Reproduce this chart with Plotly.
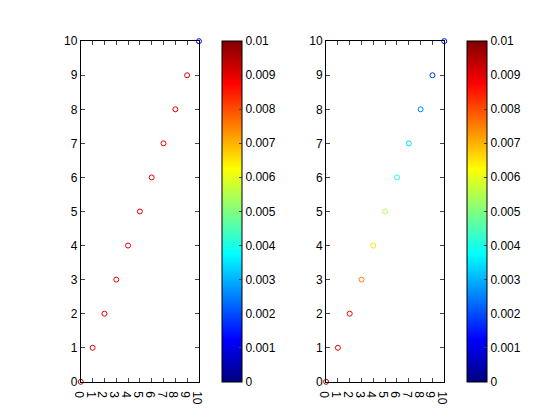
import plotly.graph_objects as go

x_vals = [0, 1, 2, 3, 4, 5, 6, 7, 8, 9, 10]
y_vals = [0, 1, 2, 3, 4, 5, 6, 7, 8, 9, 10]
c_left = [0.0092, 0.009, 0.009, 0.009, 0.009, 0.009, 0.009, 0.009, 0.009, 0.009, 0.0012]
c_right = [0.0095, 0.009, 0.0088, 0.0075, 0.0065, 0.0055, 0.0040, 0.0034, 0.0025, 0.0018, 0.0014]
cbar_ticks = [0, 0.001, 0.002, 0.003, 0.004, 0.005, 0.006, 0.007, 0.008, 0.009, 0.01]
cbar_text = ["0", "0.001", "0.002", "0.003", "0.004", "0.005", "0.006", "0.007", "0.008", "0.009", "0.01"]
axis_ticks = list(range(0, 11))

# MATLAB-style jet
jet = [[0, "rgb(0,0,128)"], [0.125, "rgb(0,0,255)"], [0.375, "rgb(0,255,255)"],
       [0.625, "rgb(255,255,0)"], [0.875, "rgb(255,0,0)"], [1, "rgb(128,0,0)"]]

fig = go.Figure()
fig.add_trace(go.Scatter(x=x_vals, y=y_vals, mode="markers", xaxis="x", yaxis="y", cliponaxis=False,
                         marker=dict(symbol="circle-open", size=5, color=c_left, coloraxis="coloraxis", line=dict(width=1))))
fig.add_trace(go.Scatter(x=x_vals, y=y_vals, mode="markers", xaxis="x2", yaxis="y2", cliponaxis=False,
                         marker=dict(symbol="circle-open", size=5, color=c_right, coloraxis="coloraxis2", line=dict(width=1))))

ax = dict(range=[0, 10], showgrid=False, zeroline=False, showline=True, mirror="ticks", linecolor="black",
          linewidth=1, ticks="inside", ticklen=4, tickvals=axis_ticks, tickfont=dict(size=12))
cb = dict(thickness=20, thicknessmode="pixels", len=341, lenmode="pixels", y=0.110, yanchor="bottom",
          xanchor="left", xpad=0, ypad=0, tickvals=cbar_ticks, ticktext=cbar_text,
          ticks="inside", ticklen=3, outlinecolor="black", outlinewidth=1, tickfont=dict(size=12))

fig.update_layout(
    width=560, height=420, showlegend=False, plot_bgcolor="white", paper_bgcolor="white",
    margin=dict(l=0, r=0, t=0, b=0, autoexpand=False),
    font=dict(family="Liberation Sans", size=12, color="black"),
    xaxis=dict(ax, domain=[0.130, 0.341], anchor="y"),
    yaxis=dict(ax, domain=[0.110, 0.921], anchor="x"),
    xaxis2=dict(ax, domain=[0.568, 0.779], anchor="y2"),
    yaxis2=dict(ax, domain=[0.110, 0.921], anchor="x2"),
    coloraxis=dict(colorscale=jet, cmin=0, cmax=0.01, colorbar=dict(cb, x=0.382)),
    coloraxis2=dict(colorscale=jet, cmin=0, cmax=0.01, colorbar=dict(cb, x=0.820)),
)

fig.write_html("out.html")
